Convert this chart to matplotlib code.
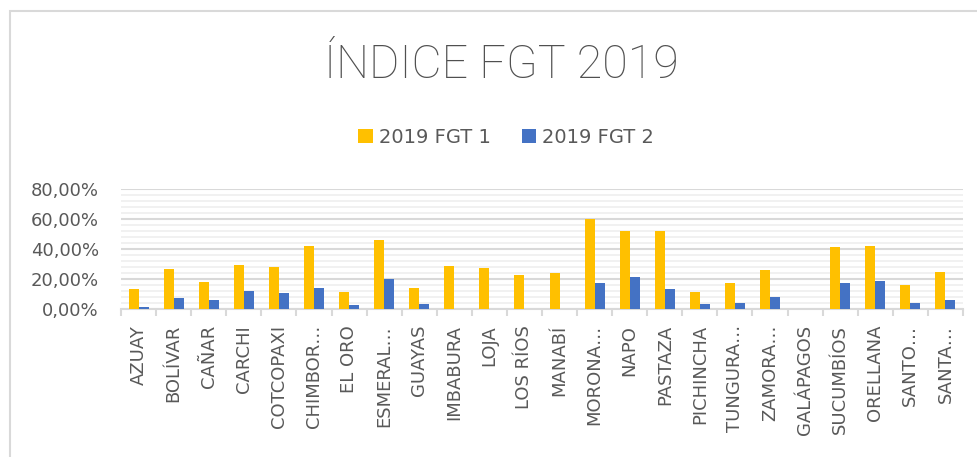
import matplotlib
matplotlib.use("Agg")
import matplotlib.pyplot as plt
from matplotlib.patches import Rectangle
from matplotlib.ticker import MultipleLocator, FuncFormatter
import numpy as np

provincias = ["AZUAY", "BOLÍVAR", "CAÑAR", "CARCHI", "COTCOPAXI", "CHIMBOR…",
              "EL ORO", "ESMERAL…", "GUAYAS", "IMBABURA", "LOJA", "LOS RÍOS",
              "MANABÍ", "MORONA…", "NAPO", "PASTAZA", "PICHINCHA", "TUNGURA…",
              "ZAMORA…", "GALÁPAGOS", "SUCUMBÍOS", "ORELLANA", "SANTO…", "SANTA…"]
fgt1 = [13.4, 26.8, 17.9, 29.5, 27.9, 42.2, 11.2, 45.8, 14.3, 28.6, 27.5, 22.8,
        23.9, 60.3, 51.8, 51.8, 11.4, 17.4, 25.7, 0.0, 41.6, 41.8, 16.1, 24.8]
fgt2 = [1.3, 7.4, 5.8, 12.1, 10.5, 14.1, 2.9, 19.9, 3.4, 0.0, 0.0, 0.0,
        0.0, 17.2, 21.2, 13.4, 3.4, 3.8, 8.3, 0.0, 17.4, 18.8, 4.2, 5.8]

fgt1 = np.array(fgt1) / 100
fgt2 = np.array(fgt2) / 100

AMARILLO = "#FFC000"
AZUL = "#4472C4"
GRIS = "#595959"

W, H = 978, 457
fig = plt.figure(figsize=(W / 100, H / 100), dpi=100)

# marco del grafico
fig.patches.append(Rectangle((9.5 / W, -0.1), 1.2, (H - 10.5) / H + 0.1,
                             transform=fig.transFigure, fill=False,
                             edgecolor="#d9d9d9", linewidth=1.5))

ax = fig.add_axes([121 / W, (H - 309) / H, (963 - 121) / W, 120 / H])
x = np.arange(len(provincias))
ax.bar(x - 0.142, fgt1, width=0.285, color=AMARILLO, label="2019 FGT 1", zorder=3)
ax.bar(x + 0.143, fgt2, width=0.285, color=AZUL, label="2019 FGT 2", zorder=3)

ax.set_xlim(-0.5, len(provincias) - 0.5)
ax.set_ylim(0, 0.8)
ax.yaxis.set_major_locator(MultipleLocator(0.2))
ax.yaxis.set_minor_locator(MultipleLocator(0.04))
ax.yaxis.set_major_formatter(FuncFormatter(lambda v, p: f"{v * 100:.2f}%".replace(".", ",")))
ax.grid(axis="y", which="major", color="#d9d9d9", linewidth=1.5, zorder=0)
ax.grid(axis="y", which="minor", color="#f0f0f0", linewidth=1.3, zorder=0)
ax.tick_params(axis="y", which="both", length=0, pad=16, labelsize=13, labelcolor=GRIS)

ax.set_xticks(x)
ax.set_xticklabels(provincias, rotation=90)
ax.set_xticks(np.arange(len(provincias) + 1) - 0.5, minor=True)
ax.tick_params(axis="x", which="major", length=0, pad=11.5, labelsize=13, labelcolor=GRIS)
ax.tick_params(axis="x", which="minor", length=5, width=1.5, color="#d9d9d9")

for s in ["top", "right", "left"]:
    ax.spines[s].set_visible(False)
ax.spines["bottom"].set_color("#d9d9d9")
ax.spines["bottom"].set_linewidth(1.5)

fig.text(501 / W, 1 - 65 / H, "ÍNDICE FGT 2019", ha="center", va="center",
         fontsize=33.5, color="#505050", family="Roboto", fontweight="light")

fig.legend(loc="center", bbox_to_anchor=(506 / W, 1 - 137.5 / H), ncol=2,
           frameon=False, fontsize=14, labelcolor=GRIS,
           handlelength=0.75, handleheight=0.75, handletextpad=0.3, columnspacing=1.6)

fig.savefig("out.png", dpi=100)
